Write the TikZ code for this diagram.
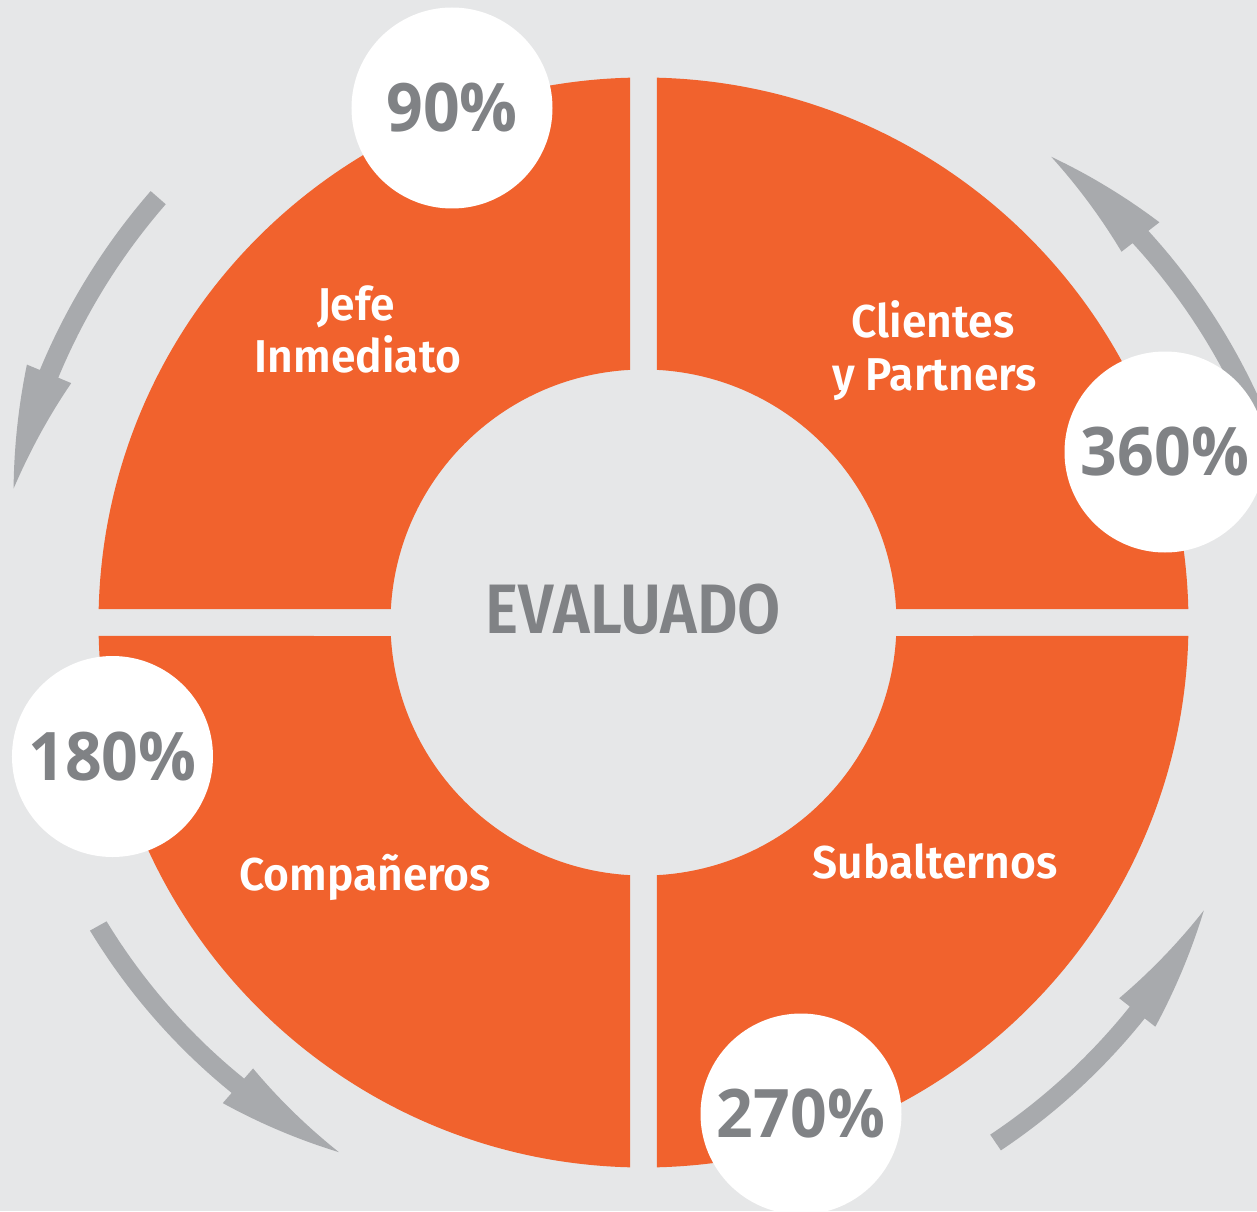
\documentclass[tikz,border=0pt]{standalone}
\usepackage{fontspec}
\setmainfont{Fira Sans}
\newfontfamily\labfont{Fira Sans SemiBold}[FakeStretch=0.965]
\newfontfamily\evfont{Fira Sans SemiBold}[FakeStretch=0.894]
\newfontfamily\pctfont{Open Sans}[FakeStretch=0.96]
\definecolor{bgc}{HTML}{E6E7E8}
\definecolor{ringc}{HTML}{F1622D}
\definecolor{arrc}{HTML}{A8AAAD}
\definecolor{txtc}{HTML}{808285}
% #1 tail angle, #2 head-base angle, #3 tip angle, #4 radius at tail, #5 radius at tip, #6 shaft half width, #7 head half width
\newcommand\grayArrow[7]{%
  \pgfmathsetmacro{\arrK}{(#5-#4)/(#3-#1)}%
  \fill[arrc] plot[domain=#1:#2,samples=40] (\x:{#4+\arrK*(\x-#1)+#6})
    -- plot[domain=#2:#3,samples=30] (\x:{#4+\arrK*(\x-#1)+#7*(#3-\x)/(#3-#2)})
    -- plot[domain=#3:#2,samples=30] (\x:{#4+\arrK*(\x-#1)-#7*(#3-\x)/(#3-#2)})
    -- plot[domain=#2:#1,samples=40] (\x:{#4+\arrK*(\x-#1)-#6}) -- cycle;}
\begin{document}
\begin{tikzpicture}[x=1pt,y=1pt,
  lab/.style={text=white,font=\labfont\fontsize{46}{52}\selectfont,anchor=base,inner sep=0pt},
  pct/.style={circle,fill=white,minimum size=201,inner sep=0pt,text=txtc,font=\pctfont\bfseries\fontsize{67}{70}\selectfont}]
\useasboundingbox (-643.5,-588.5) rectangle (613.5,622.5);
\fill[bgc] (-643.5,-588.5) rectangle (613.5,622.5);
% ring quadrants
\foreach \q in {0,90,180,270}
  \fill[ringc,rotate=\q] (1.419:545) arc[start angle=1.419,end angle=88.581,radius=545]
     -- (86.941:253) arc[start angle=86.941,end angle=3.059,radius=253] -- cycle;
% arrows
\grayArrow{138.8}{157.3}{168.0}{645}{644}{10}{24}
\grayArrow{19.0}{37.8}{48.8}{646}{619}{10}{24}
\grayArrow{209.1}{228.8}{240.1}{624}{611}{9.5}{23}
\grayArrow{-55.9}{-38.3}{-27.2}{628}{630}{9.5}{23}
% percentage circles
\node[pct] (p90) at (-191.5,514.5) {90\%};
\node[pct] (p360) at (521.5,170.5) {360\%};
\node[pct] (p180) at (-531,-134) {180\%};
\node[pct] (p270) at (157.5,-491.5) {270\%};
% labels
\node[lab] (jefe1) at (-287.5,302.5) {Jefe};
\node[lab] (jefe2) at (-285.5,250.5) {Inmediato};
\node[lab] (cli1) at (289.5,285.5) {Clientes};
\node[lab] (cli2) at (291,232.5) {y Partners};
\node[lab] (comp) at (-278.5,-267.5) {Compañeros};
\node[lab] (sub) at (291.5,-255.5) {Subalternos};
\node[anchor=base,inner sep=0pt,text=txtc,font=\evfont\fontsize{70}{72}\selectfont] (ev) at (-10,-10.5) {EVALUADO};
\end{tikzpicture}
\end{document}
